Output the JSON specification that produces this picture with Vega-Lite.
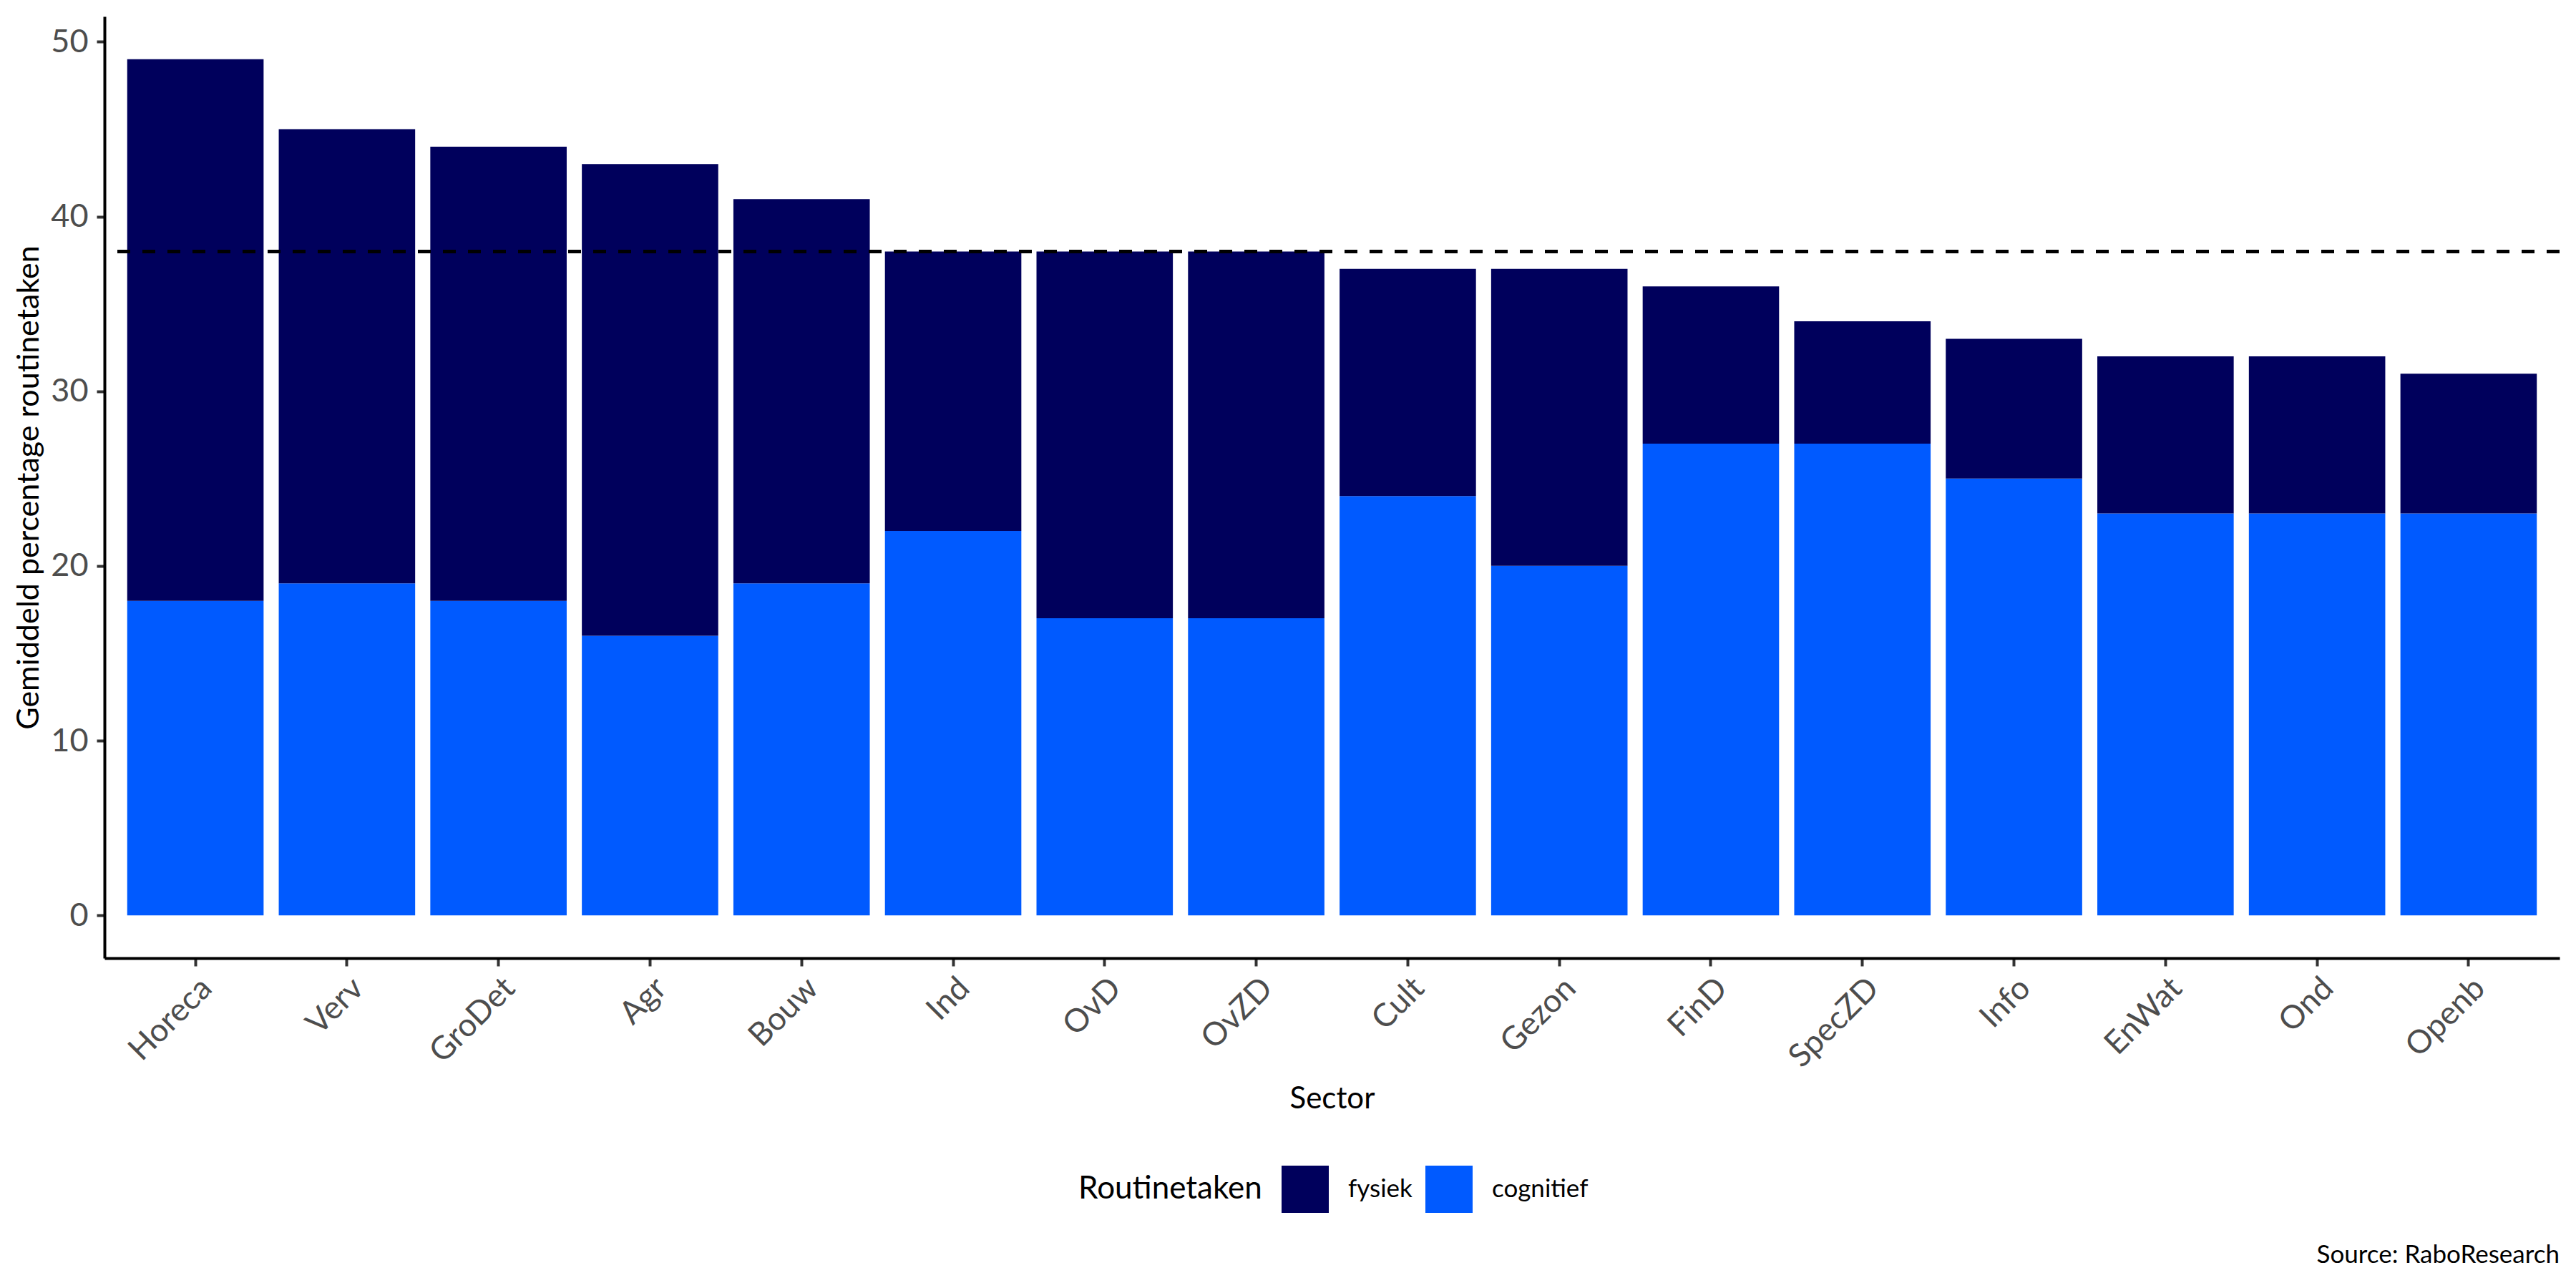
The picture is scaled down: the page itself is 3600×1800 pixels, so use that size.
{
  "$schema": "https://vega.github.io/schema/vega-lite/v6.json",
  "width": 3431,
  "height": 1316,
  "autosize": {"type": "none"},
  "padding": {"left": 146, "top": 23, "right": 23, "bottom": 461},
  "background": "white",
  "config": {"view": {"stroke": null}, "font": "Lato"},
  "title": {
    "text": "Source: RaboResearch",
    "orient": "bottom",
    "anchor": "end",
    "frame": "group",
    "fontSize": 35,
    "fontWeight": "normal",
    "color": "black",
    "font": "Lato",
    "baseline": "alphabetic",
    "offset": 70
  },
  "data": {
    "values": [
      {"Sector": "Horeca", "Routinetaken": "cognitief", "waarde": 18},
      {"Sector": "Horeca", "Routinetaken": "fysiek", "waarde": 31},
      {"Sector": "Verv", "Routinetaken": "cognitief", "waarde": 19},
      {"Sector": "Verv", "Routinetaken": "fysiek", "waarde": 26},
      {"Sector": "GroDet", "Routinetaken": "cognitief", "waarde": 18},
      {"Sector": "GroDet", "Routinetaken": "fysiek", "waarde": 26},
      {"Sector": "Agr", "Routinetaken": "cognitief", "waarde": 16},
      {"Sector": "Agr", "Routinetaken": "fysiek", "waarde": 27},
      {"Sector": "Bouw", "Routinetaken": "cognitief", "waarde": 19},
      {"Sector": "Bouw", "Routinetaken": "fysiek", "waarde": 22},
      {"Sector": "Ind", "Routinetaken": "cognitief", "waarde": 22},
      {"Sector": "Ind", "Routinetaken": "fysiek", "waarde": 16},
      {"Sector": "OvD", "Routinetaken": "cognitief", "waarde": 17},
      {"Sector": "OvD", "Routinetaken": "fysiek", "waarde": 21},
      {"Sector": "OvZD", "Routinetaken": "cognitief", "waarde": 17},
      {"Sector": "OvZD", "Routinetaken": "fysiek", "waarde": 21},
      {"Sector": "Cult", "Routinetaken": "cognitief", "waarde": 24},
      {"Sector": "Cult", "Routinetaken": "fysiek", "waarde": 13},
      {"Sector": "Gezon", "Routinetaken": "cognitief", "waarde": 20},
      {"Sector": "Gezon", "Routinetaken": "fysiek", "waarde": 17},
      {"Sector": "FinD", "Routinetaken": "cognitief", "waarde": 27},
      {"Sector": "FinD", "Routinetaken": "fysiek", "waarde": 9},
      {"Sector": "SpecZD", "Routinetaken": "cognitief", "waarde": 27},
      {"Sector": "SpecZD", "Routinetaken": "fysiek", "waarde": 7},
      {"Sector": "Info", "Routinetaken": "cognitief", "waarde": 25},
      {"Sector": "Info", "Routinetaken": "fysiek", "waarde": 8},
      {"Sector": "EnWat", "Routinetaken": "cognitief", "waarde": 23},
      {"Sector": "EnWat", "Routinetaken": "fysiek", "waarde": 9},
      {"Sector": "Ond", "Routinetaken": "cognitief", "waarde": 23},
      {"Sector": "Ond", "Routinetaken": "fysiek", "waarde": 9},
      {"Sector": "Openb", "Routinetaken": "cognitief", "waarde": 23},
      {"Sector": "Openb", "Routinetaken": "fysiek", "waarde": 8}
    ]
  },
  "layer": [
    {
      "mark": {"type": "bar"},
      "encoding": {
        "x": {
          "field": "Sector",
          "type": "nominal",
          "sort": null,
          "scale": {"paddingInner": 0.1, "paddingOuter": 0.15},
          "axis": {
            "title": "Sector",
            "labelAngle": -45,
            "labelAlign": "right",
            "labelBaseline": "top",
            "labelFontSize": 45,
            "labelColor": "#4d4d4d",
            "labelPadding": 8,
            "domainColor": "black",
            "domainWidth": 4,
            "tickColor": "#333333",
            "tickWidth": 4,
            "tickSize": 11,
            "titleFontSize": 42,
            "titleFontWeight": "normal",
            "titleColor": "black",
            "titleY": 209,
            "titleBaseline": "alphabetic"
          }
        },
        "y": {
          "field": "waarde",
          "type": "quantitative",
          "stack": "zero",
          "scale": {"domain": [-2.45, 51.45], "nice": false, "zero": false},
          "axis": {
            "title": "Gemiddeld percentage routinetaken",
            "values": [0, 10, 20, 30, 40, 50],
            "grid": false,
            "domainColor": "black",
            "domainWidth": 4,
            "tickColor": "#333333",
            "tickWidth": 4,
            "tickSize": 11,
            "labelFontSize": 45,
            "labelColor": "#4d4d4d",
            "labelPadding": 12,
            "titleFontSize": 43,
            "titleFontWeight": "normal",
            "titleColor": "black",
            "titleX": -93,
            "titleY": 658,
            "titleAngle": -90,
            "titleAlign": "center",
            "titleBaseline": "alphabetic"
          }
        },
        "color": {
          "field": "Routinetaken",
          "type": "nominal",
          "scale": {"domain": ["fysiek", "cognitief"], "range": ["#00005c", "#005aff"]},
          "legend": {
            "orient": "none",
            "legendX": 1361,
            "legendY": 1606,
            "direction": "horizontal",
            "title": "Routinetaken",
            "titleOrient": "left",
            "titleAnchor": "middle",
            "titleBaseline": "middle",
            "titleLimit": 2000,
            "titleFontSize": 44,
            "titleFontWeight": "normal",
            "titleColor": "black",
            "titlePadding": 27,
            "labelFontSize": 35,
            "labelColor": "black",
            "labelOffset": 27,
            "columnPadding": 18,
            "symbolType": "square",
            "symbolSize": 4356,
            "symbolStrokeWidth": 0,
            "symbolOpacity": 1,
            "padding": 0
          }
        },
        "order": {"field": "Routinetaken", "sort": "ascending"}
      }
    },
    {
      "mark": {"type": "rule", "strokeDash": [18, 17], "strokeWidth": 4, "color": "black"},
      "encoding": {"y": {"datum": 38}}
    }
  ]
}
